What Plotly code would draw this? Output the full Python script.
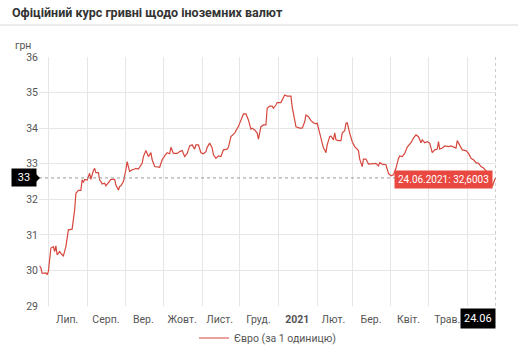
import plotly.graph_objects as go

# ---- data ----
dates = [
    "2020-06-24", "2020-06-25", "2020-06-26", "2020-06-29", "2020-06-30",
    "2020-07-01", "2020-07-03", "2020-07-05", "2020-07-06", "2020-07-07", "2020-07-08", "2020-07-10",
    "2020-07-12", "2020-07-13", "2020-07-15", "2020-07-16", "2020-07-17", "2020-07-20", "2020-07-21",
    "2020-07-22", "2020-07-23", "2020-07-25", "2020-07-27", "2020-07-28", "2020-07-29", "2020-07-30",
    "2020-08-01", "2020-08-03", "2020-08-04", "2020-08-05", "2020-08-06", "2020-08-07", "2020-08-08",
    "2020-08-10", "2020-08-11", "2020-08-12", "2020-08-13", "2020-08-15", "2020-08-16", "2020-08-18",
    "2020-08-20", "2020-08-23", "2020-08-24", "2020-08-26", "2020-08-27", "2020-08-28", "2020-08-30",
    "2020-09-01", "2020-09-02", "2020-09-04", "2020-09-06", "2020-09-08", "2020-09-09", "2020-09-11",
    "2020-09-14", "2020-09-15", "2020-09-17", "2020-09-19", "2020-09-21", "2020-09-22", "2020-09-24",
    "2020-09-28", "2020-09-30",
    "2020-10-02", "2020-10-04", "2020-10-06", "2020-10-07", "2020-10-09", "2020-10-12", "2020-10-14",
    "2020-10-16", "2020-10-18", "2020-10-20", "2020-10-22", "2020-10-24", "2020-10-26", "2020-10-27",
    "2020-10-29", "2020-10-31",
    "2020-11-02", "2020-11-04", "2020-11-05", "2020-11-07", "2020-11-09", "2020-11-10", "2020-11-12",
    "2020-11-14", "2020-11-16", "2020-11-18", "2020-11-21", "2020-11-22", "2020-11-24", "2020-11-26",
    "2020-11-27", "2020-11-30",
    "2020-12-02", "2020-12-04", "2020-12-06", "2020-12-08", "2020-12-10", "2020-12-11", "2020-12-13",
    "2020-12-15", "2020-12-16", "2020-12-18", "2020-12-20", "2020-12-22", "2020-12-23", "2020-12-25",
    "2020-12-27", "2020-12-28", "2020-12-30", "2020-12-31",
    "2021-01-03", "2021-01-05", "2021-01-06", "2021-01-08", "2021-01-09", "2021-01-11", "2021-01-12",
    "2021-01-14", "2021-01-15", "2021-01-18", "2021-01-20", "2021-01-22", "2021-01-23", "2021-01-25",
    "2021-01-27", "2021-01-29", "2021-01-31",
    "2021-02-01", "2021-02-03", "2021-02-04", "2021-02-06", "2021-02-07", "2021-02-08", "2021-02-09",
    "2021-02-11", "2021-02-12", "2021-02-14", "2021-02-15", "2021-02-16", "2021-02-18", "2021-02-20",
    "2021-02-21", "2021-02-23", "2021-02-24", "2021-02-25", "2021-02-27",
    "2021-03-01", "2021-03-03", "2021-03-04", "2021-03-06", "2021-03-07", "2021-03-09", "2021-03-10",
    "2021-03-12", "2021-03-14", "2021-03-16", "2021-03-18", "2021-03-20", "2021-03-22", "2021-03-23",
    "2021-03-25", "2021-03-28", "2021-03-30",
    "2021-04-01", "2021-04-03", "2021-04-05", "2021-04-07", "2021-04-08", "2021-04-10", "2021-04-12",
    "2021-04-14", "2021-04-17", "2021-04-19", "2021-04-21", "2021-04-23", "2021-04-25", "2021-04-26",
    "2021-04-28", "2021-04-30",
    "2021-05-02", "2021-05-04", "2021-05-06", "2021-05-08", "2021-05-09", "2021-05-10", "2021-05-12",
    "2021-05-14", "2021-05-17", "2021-05-19", "2021-05-21", "2021-05-23", "2021-05-24", "2021-05-26",
    "2021-05-28", "2021-05-31",
    "2021-06-02", "2021-06-04", "2021-06-06", "2021-06-08", "2021-06-10", "2021-06-12", "2021-06-14",
    "2021-06-16", "2021-06-18", "2021-06-20", "2021-06-21", "2021-06-22", "2021-06-23", "2021-06-24",
]
rates = [
    30.13, 30.07, 29.92, 29.93, 29.88,
    29.97, 30.63, 30.67, 30.53, 30.69, 30.44, 30.53,
    30.44, 30.41, 30.67, 31.00, 31.14, 31.16, 31.42,
    31.70, 32.17, 32.25, 32.25, 32.55, 32.47, 32.56,
    32.54, 32.73, 32.56, 32.71, 32.81, 32.87, 32.75,
    32.75, 32.54, 32.50, 32.43, 32.45, 32.38, 32.47,
    32.56, 32.56, 32.40, 32.26, 32.36, 32.38, 32.50,
    32.83, 33.06, 32.78, 32.83, 32.85, 32.87, 32.85,
    33.01, 33.20, 33.37, 33.20, 33.31, 33.11, 32.92,
    32.90, 33.11,
    33.22, 33.31, 33.28, 33.46, 33.29, 33.29, 33.34,
    33.37, 33.20, 33.29, 33.50, 33.53, 33.41, 33.53,
    33.53, 33.31,
    33.28, 33.34, 33.46, 33.58, 33.44, 33.25, 33.15,
    33.22, 33.20, 33.39, 33.41, 33.46, 33.76, 33.81,
    33.86, 34.05,
    34.23, 34.40, 34.40, 34.23, 33.97, 34.00, 33.95,
    33.86, 33.69, 34.04, 34.09, 34.09, 34.56, 34.62,
    34.62, 34.56, 34.65, 34.72,
    34.72, 34.84, 34.93, 34.90, 34.90, 34.90, 34.60,
    34.18, 34.04, 34.00, 34.00, 34.18, 34.37, 34.32,
    34.21, 34.15, 34.12,
    34.14, 33.86, 33.67, 33.44, 33.39, 33.31, 33.53,
    33.76, 33.78, 33.67, 33.87, 33.67, 33.65, 33.65,
    33.86, 33.93, 34.14, 34.15, 33.86,
    33.62, 33.48, 33.44, 33.37, 33.13, 32.92, 33.13,
    33.13, 32.99, 32.99, 32.99, 33.01, 32.94, 33.03,
    32.99, 32.97, 32.73,
    32.66, 32.69, 32.87, 33.15, 33.22, 33.20, 33.29,
    33.47, 33.59, 33.72, 33.81, 33.76, 33.59, 33.67,
    33.59, 33.62,
    33.58, 33.31, 33.39, 33.41, 33.62, 33.41, 33.44,
    33.50, 33.48, 33.50, 33.46, 33.44, 33.65, 33.53,
    33.39, 33.37,
    33.29, 33.15, 33.11, 33.03, 33.01, 32.92, 32.88,
    32.80, 32.75, 32.55, 32.36, 32.45, 32.56, 32.6003,
]
series_name = "Євро (за 1 одиницю)"
month_starts = ["2020-07-01", "2020-08-01", "2020-09-01", "2020-10-01", "2020-11-01", "2020-12-01",
                "2021-01-01", "2021-02-01", "2021-03-01", "2021-04-01", "2021-05-01", "2021-06-01"]
month_mids = ["2020-07-16", "2020-08-16", "2020-09-15", "2020-10-16", "2020-11-15", "2020-12-16",
              "2021-01-16", "2021-02-14", "2021-03-16", "2021-04-15", "2021-05-16"]
month_labels = ["Лип.", "Серп.", "Вер.", "Жовт.", "Лист.", "Груд.", "<b>2021</b>",
                "Лют.", "Бер.", "Квіт.", "Трав."]
y_ticks = [29, 30, 31, 32, 33, 34, 35, 36]
last_date = "2021-06-24"
last_value = 32.6003
last_label = "24.06.2021: 32,6003"
last_short = "24.06"
cross_y_label = "33"
unit_label = "грн"
title_text = "Офіційний курс гривні щодо іноземних валют"

LINE = "#d6473d"
GRID = "#e6e6e6"
TXT = "#555555"

W, H = 518, 350
ML, MR, MT, MB = 39, 22, 57, 44
PW, PH = W - ML - MR, H - MT - MB

def px_x(px):
    return (px - ML) / PW

def px_y(py):
    return (H - MB - py) / PH

fig = go.Figure()
fig.add_trace(go.Scatter(x=dates, y=rates, mode="lines", name=series_name,
                         line=dict(color=LINE, width=1.2), hoverinfo="skip"))

fig.update_layout(
    width=W, height=H,
    margin=dict(l=ML, r=MR, t=MT, b=MB, autoexpand=False),
    paper_bgcolor="white", plot_bgcolor="white",
    font=dict(family="Roboto, Arial, sans-serif", size=11, color=TXT),
    title=dict(text="<b>" + title_text + "</b>", x=12 / W, xanchor="left", xref="container",
               y=1 - 13 / H, yanchor="middle", yref="container",
               font=dict(size=12.5, color="#333333")),
    showlegend=True,
    legend=dict(orientation="h", x=0.5, xanchor="center", y=px_y(338), yanchor="middle",
                font=dict(size=10.5, color=TXT), bgcolor="rgba(0,0,0,0)"),
    xaxis=dict(type="date", range=["2020-06-23 12:00", last_date],
               tickmode="array", tickvals=month_mids, ticktext=month_labels,
               showgrid=False, zeroline=False, showline=False, ticks="",
               ticklabelstandoff=5,
               tickfont=dict(size=10.5, color=TXT),
               minor=dict(tickmode="array", tickvals=month_starts, showgrid=True,
                          gridcolor=GRID, gridwidth=1, ticks=""),
               fixedrange=True),
    yaxis=dict(range=[29, 36], tickmode="array", tickvals=y_ticks,
               showgrid=True, gridcolor=GRID, gridwidth=1, zeroline=False,
               showline=False, ticks="", tickfont=dict(size=10.5, color=TXT),
               fixedrange=True),
)

# top separator line
fig.add_shape(type="line", xref="paper", yref="paper",
              x0=px_x(0), x1=px_x(W), y0=px_y(25), y1=px_y(25),
              line=dict(color="#ececec", width=2))
# crosshair
fig.add_shape(type="line", xref="paper", yref="y", x0=0, x1=1, y0=last_value, y1=last_value,
              line=dict(color="#9a9a9a", width=1, dash="dot"))
fig.add_shape(type="line", xref="x", yref="paper", x0=last_date, x1=last_date, y0=0, y1=1,
              line=dict(color="#9a9a9a", width=1, dash="dot"))
# pointer triangle of the y label
fig.add_shape(type="path", xref="paper", xsizemode="pixel", xanchor=0,
              yref="y", ysizemode="pixel", yanchor=last_value,
              path="M -3,-4 L 1,0 L -3,4 Z", fillcolor="black", line=dict(width=0))

fig.add_annotation(text=unit_label, xref="paper", yref="paper", x=px_x(23), y=px_y(45),
                   xanchor="center", yanchor="middle", showarrow=False,
                   font=dict(size=10.5, color=TXT))
fig.add_annotation(text=cross_y_label, xref="paper", yref="y", x=0, y=last_value,
                   xanchor="right", yanchor="middle", xshift=-2, showarrow=False,
                   bgcolor="black", borderpad=2, font=dict(size=11, color="white"),
                   width=20)
fig.add_annotation(text=last_short, xref="x", yref="paper", x=last_date, y=0,
                   xanchor="right", yanchor="top", yshift=-2, showarrow=False,
                   bgcolor="black", borderpad=3, font=dict(size=11, color="white"))
fig.add_annotation(text=last_label, xref="x", yref="y", x=last_date, y=last_value,
                   xanchor="right", yanchor="middle", xshift=-3, yshift=-2, showarrow=False,
                   bgcolor="#e8483f", borderpad=3, font=dict(size=10, color="white"))

fig.write_html("out.html")
